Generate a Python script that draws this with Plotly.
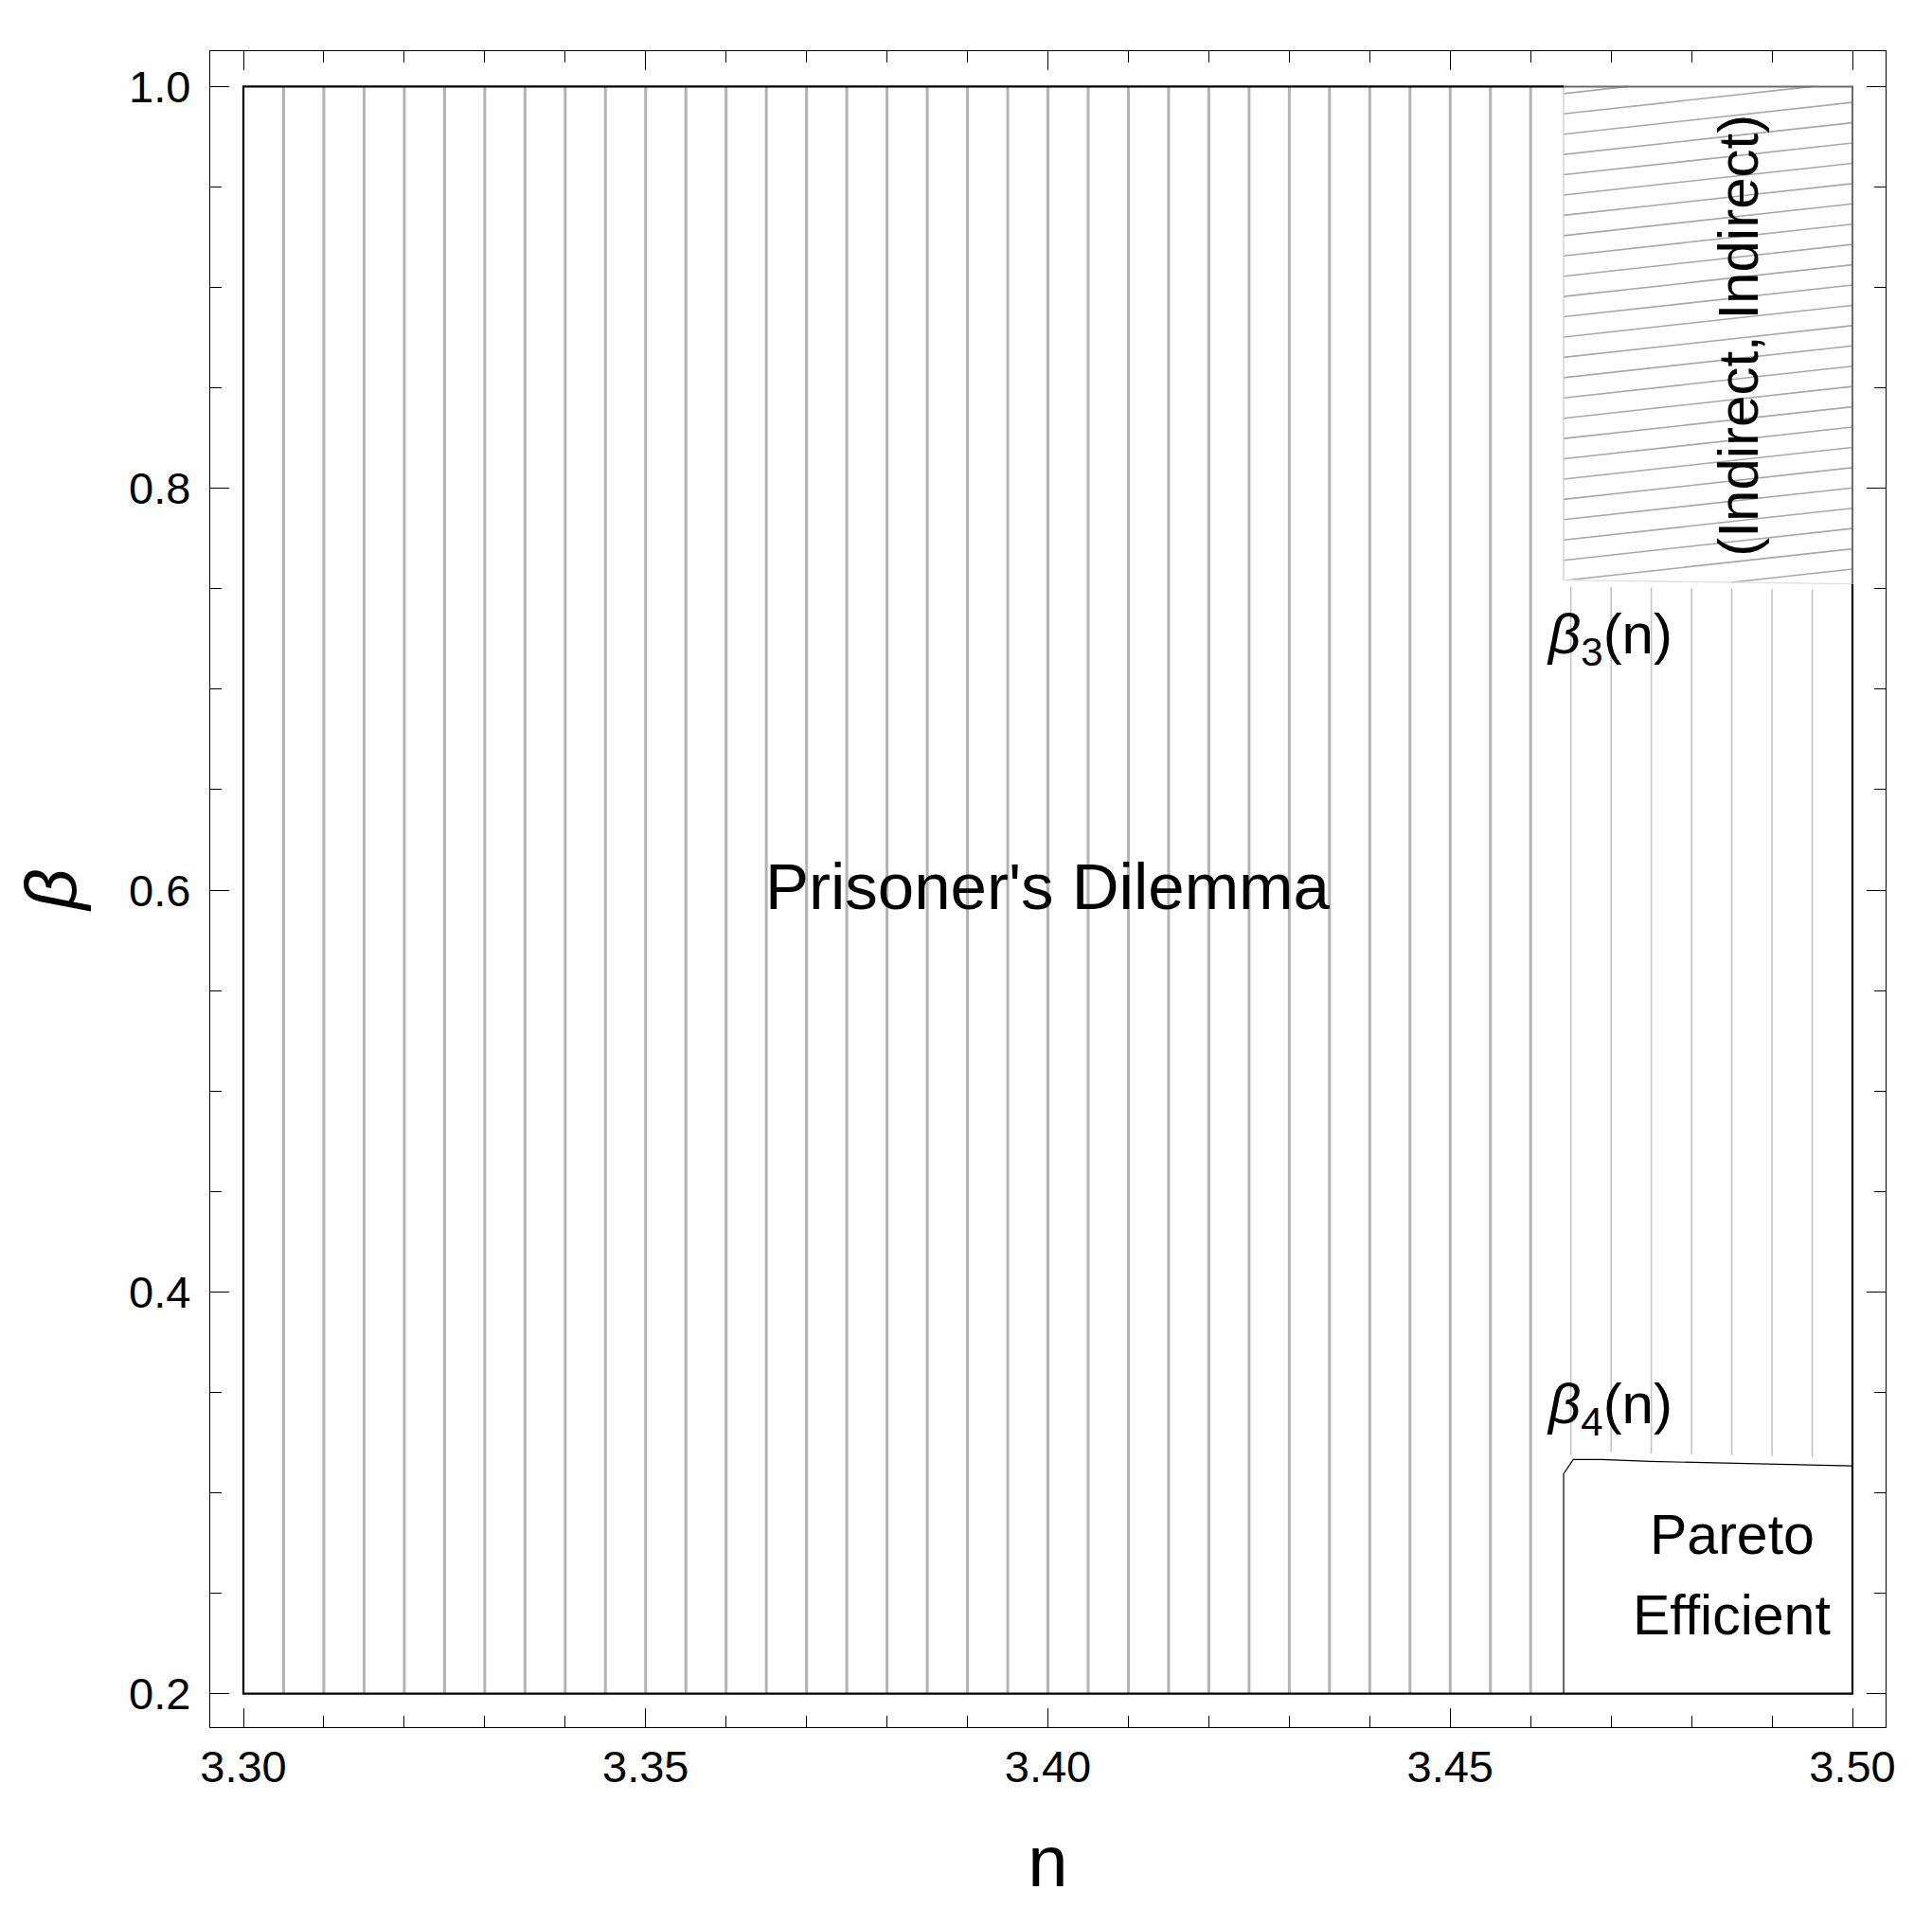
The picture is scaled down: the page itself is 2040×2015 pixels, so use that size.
import numpy as np
import plotly.graph_objects as go

# ---------------- data ----------------
N_MIN, N_MAX = 3.30, 3.50          # plotted n range of the regions
B_MIN, B_MAX = 0.20, 1.00          # plotted beta range of the regions
N_SPLIT = 3.4641                   # 2*sqrt(3): left edge of the right-hand regions

# beta_3(n): lower edge of the (Indirect, Indirect) region
beta3_n = [3.4641, 3.4800, 3.5000]
beta3_v = [0.7543, 0.7534, 0.7524]

# beta_4(n): upper edge of the Pareto Efficient region
beta4_n = [3.4641, 3.4653, 3.4688, 3.4749, 3.4850, 3.5000]
beta4_v = [0.3095, 0.3166, 0.3166, 0.3156, 0.3148, 0.3134]

x_tick_vals = [3.30, 3.35, 3.40, 3.45, 3.50]
x_tick_text = ["3.30", "3.35", "3.40", "3.45", "3.50"]
y_tick_vals = [0.2, 0.4, 0.6, 0.8, 1.0]
y_tick_text = ["0.2", "0.4", "0.6", "0.8", "1.0"]

label_text = ["Prisoner's Dilemma", "(Indirect, Indirect)",
              "<i>β</i><sub>3</sub>(n)", "<i>β</i><sub>4</sub>(n)",
              "Pareto", "Efficient"]
label_n = [3.400, 3.4858, 3.4698, 3.4698, 3.4850, 3.4850]
label_b = [0.6015, 0.8761, 0.7255, 0.3423, 0.2789, 0.2390]
label_size = [69, 60, 60, 60, 59, 59]
label_angle = [0, -90, 0, 0, 0, 0]

# hatch pattern settings (style)
STRIPE_STEP = 0.005
HATCH_SLOPE = 0.44
HATCH_STEP = 0.0101
HATCH_START = 0.7541

FONT = "Liberation Sans, Arial, sans-serif"

fig = go.Figure()

def seg_trace(xs, ys, color, width, dash=None):
    fig.add_trace(go.Scatter(x=xs, y=ys, mode="lines",
                             line=dict(color=color, width=width, dash=dash),
                             hoverinfo="skip", showlegend=False))

# ---- vertical stripes (Prisoner's Dilemma region) ----
stripe_x = np.round(np.arange(N_MIN + STRIPE_STEP, N_MAX - 1e-9, STRIPE_STEP), 4)
lx, ly, rx, ry = [], [], [], []
for sx in stripe_x:
    if sx < N_SPLIT:
        lx += [sx, sx, None]
        ly += [B_MIN, B_MAX, None]
    else:
        lo = float(np.interp(sx, beta4_n, beta4_v)) + 0.004
        hi = float(np.interp(sx, beta3_n, beta3_v)) - 0.003
        rx += [sx, sx, None]
        ry += [lo, hi, None]
seg_trace(lx, ly, "#b3b3b3", 3.0)
seg_trace(rx, ry, "#c4c4c4", 1.6)

# ---- diagonal hatch in (Indirect, Indirect) region ----
a3 = beta3_v[0]
m3 = (beta3_v[-1] - beta3_v[0]) / (beta3_n[-1] - beta3_n[0])
hx, hy = [], []
for j in range(-3, 28):
    c = HATCH_START + j * HATCH_STEP
    n_start = N_SPLIT
    if c < a3:
        n_start = N_SPLIT + (a3 - c) / (HATCH_SLOPE - m3)
    n_end = min(N_MAX, N_SPLIT + (B_MAX - c) / HATCH_SLOPE)
    if n_start < n_end and n_start < N_MAX:
        hx += [n_start, n_end, None]
        hy += [c + HATCH_SLOPE * (n_start - N_SPLIT), c + HATCH_SLOPE * (n_end - N_SPLIT), None]
seg_trace(hx, hy, "#a8a8a8", 1.6)

# hatch region edges (left, bottom)
seg_trace([N_SPLIT, N_SPLIT], [beta3_v[0], B_MAX], "#c8c8c8", 1.2)
seg_trace(beta3_n, beta3_v, "#dedede", 1.2)

# Pareto region edges
seg_trace([N_SPLIT] + beta4_n, [B_MIN] + beta4_v, "black", 1.2)

# main region box
seg_trace([N_SPLIT, N_MIN, N_MIN, N_MAX, N_MAX],
          [B_MAX, B_MAX, B_MIN, B_MIN, beta3_v[-1]], "black", 2.2)
seg_trace([N_SPLIT, N_MAX, N_MAX], [B_MAX, B_MAX, beta3_v[-1]], "#6a6a6a", 2.0)

# ---- labels ----
for t, xn, yb, s, ang in zip(label_text, label_n, label_b, label_size, label_angle):
    fig.add_annotation(x=xn, y=yb, text=t, showarrow=False, textangle=ang,
                       font=dict(family=FONT, size=s, color="black"),
                       xanchor="center", yanchor="middle", align="center")

axis_common = dict(ticks="inside", ticklen=20, tickwidth=1.2, tickcolor="black",
                   showline=True, linecolor="black", linewidth=1.3,
                   mirror="allticks", showgrid=False, zeroline=False,
                   tickfont=dict(family=FONT, size=47, color="black"))

fig.update_xaxes(range=[3.29588, 3.50412], tickvals=x_tick_vals, ticktext=x_tick_text,
                 minor=dict(ticks="inside", ticklen=12, tickwidth=1.2, tickcolor="black",
                            dtick=0.01, tick0=3.30, showgrid=False),
                 ticklabelstandoff=0,
                 title=dict(text="n", font=dict(family=FONT, size=76, color="black"),
                            standoff=48),
                 **axis_common)
fig.update_yaxes(range=[0.18336, 1.01763], tickvals=y_tick_vals, ticktext=y_tick_text,
                 minor=dict(ticks="inside", ticklen=12, tickwidth=1.2, tickcolor="black",
                            dtick=0.05, tick0=0.2, showgrid=False),
                 ticklabelstandoff=10,
                 title=dict(text="<i>β</i>", font=dict(family=FONT, size=76, color="black"),
                            standoff=30),
                 **axis_common)

fig.update_layout(width=2040, height=2015,
                  margin=dict(l=214, r=57, t=46, b=199, autoexpand=False),
                  plot_bgcolor="white", paper_bgcolor="white",
                  showlegend=False, font=dict(family=FONT, color="black"))

fig.write_html("out.html")
